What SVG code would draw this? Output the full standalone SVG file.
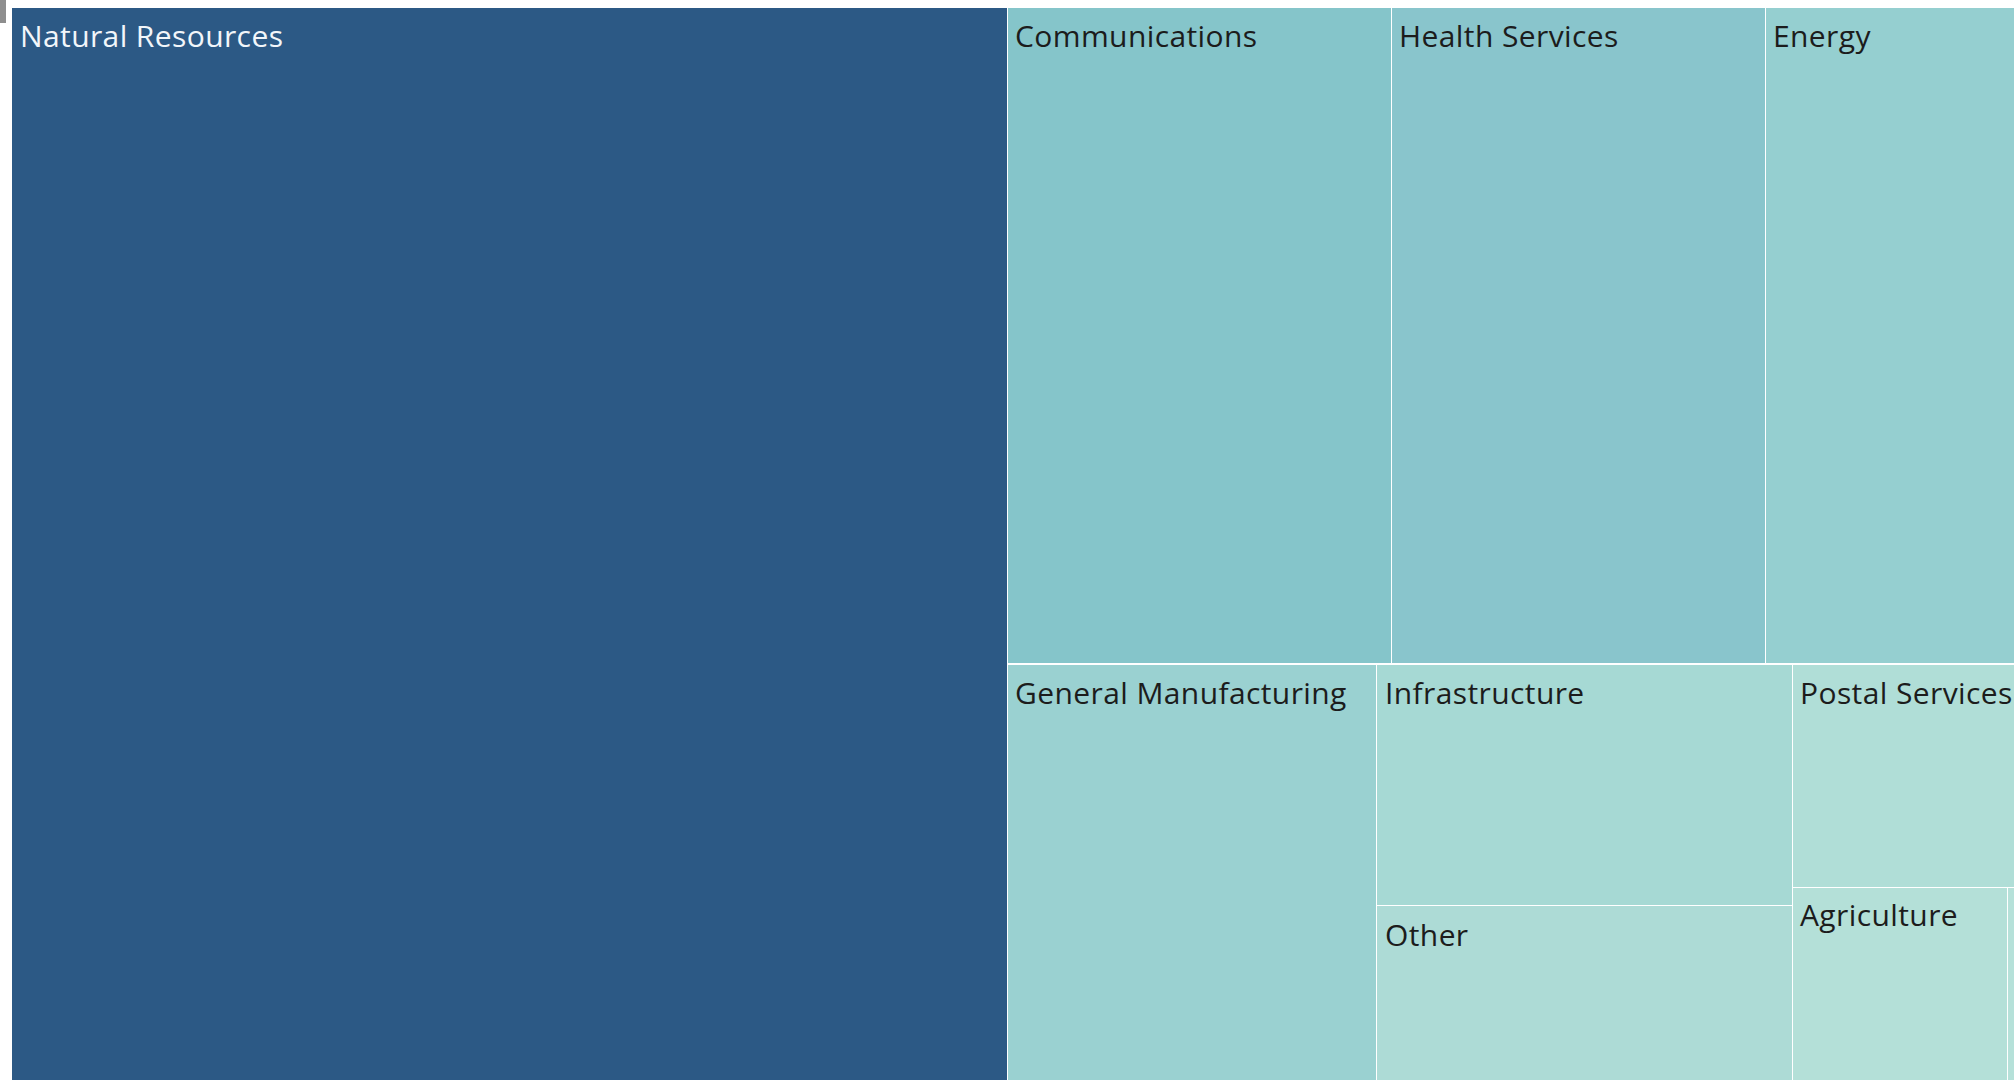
<svg xmlns="http://www.w3.org/2000/svg" width="2014" height="1080" viewBox="0 0 2014 1080">
<style>
.lbl{font-family:"Open Sans","Noto Sans",sans-serif;font-size:30px;letter-spacing:0.4px;fill:#1c1c1c}
.lw{fill:#f2f6fa}
.tile{stroke:none}
</style>
<rect x="0" y="0" width="2014" height="1080" fill="#ffffff"/>
<rect x="0" y="0" width="6" height="23" fill="#8e8e8e"/>
<g id="connectors"></g>
<g id="natural-resources"><rect class="tile" x="12" y="8" width="995" height="1072" fill="#2c5985"/><text class="lbl lw" x="20" y="47">Natural Resources</text></g>
<g id="communications"><rect class="tile" x="1008" y="8" width="383" height="655" fill="#85c5ca"/><text class="lbl" x="1015" y="47">Communications</text></g>
<g id="health-services"><rect class="tile" x="1392" y="8" width="373" height="655" fill="#89c5cc"/><text class="lbl" x="1399" y="47">Health Services</text></g>
<g id="energy"><rect class="tile" x="1766" y="8" width="248" height="655" fill="#95cfd0"/><text class="lbl" x="1773" y="47">Energy</text></g>
<g id="general-manufacturing"><rect class="tile" x="1008" y="665" width="368" height="415" fill="#9ad1d1"/><text class="lbl" x="1015" y="704">General Manufacturing</text></g>
<g id="infrastructure"><rect class="tile" x="1377" y="665" width="415" height="240" fill="#a6d9d4"/><text class="lbl" x="1385" y="704">Infrastructure</text></g>
<g id="other"><rect class="tile" x="1377" y="906" width="415" height="174" fill="#addbd6"/><text class="lbl" x="1385" y="946">Other</text></g>
<g id="postal-services"><rect class="tile" x="1793" y="665" width="221" height="222" fill="#b0ded7"/><text class="lbl" x="1800" y="704">Postal Services</text></g>
<g id="agriculture"><rect class="tile" x="1793" y="888" width="214" height="192" fill="#b4e0d8"/><text class="lbl" x="1800" y="926">Agriculture</text></g>
<g id="sliver"><rect class="tile" x="2008" y="888" width="6" height="192" fill="#b6e1d9"/></g>
</svg>
